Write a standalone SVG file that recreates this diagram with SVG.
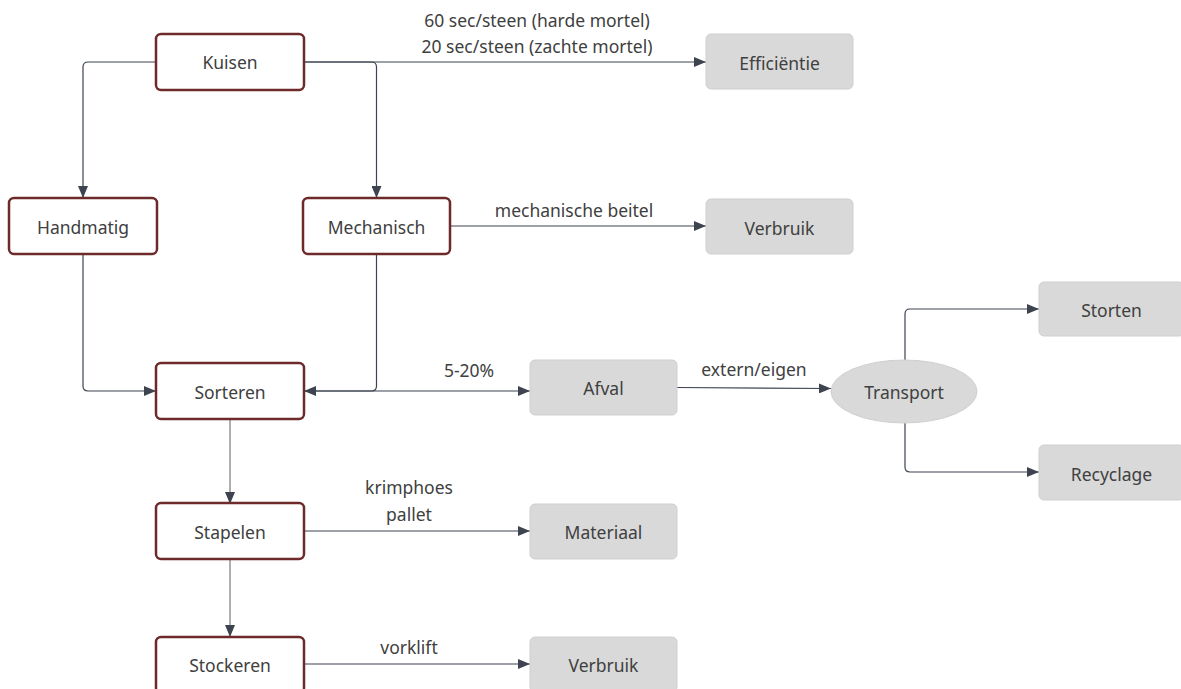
<svg xmlns="http://www.w3.org/2000/svg" width="1181" height="689" viewBox="0 0 1181 689">
<style>
.step{fill:#ffffff;stroke:#6e2a2a;stroke-width:2.5}
.res{fill:#d9d9d9;stroke:#cfcfcf;stroke-width:1}
.t{font-family:"Noto Sans","Open Sans",sans-serif;font-size:17.5px;fill:#404040;text-anchor:middle}
.c{fill:none;stroke:#3d4450;stroke-width:1.2}
.g{stroke:#7a7a7a}
</style>
<defs>
<marker id="ah" viewBox="0 0 12 10" refX="12" refY="5" markerWidth="12" markerHeight="10" markerUnits="userSpaceOnUse" orient="auto">
<path d="M0,0 L12,5 L0,10 Z" fill="#3d4450"/>
</marker>
</defs>
<rect width="1181" height="689" fill="#ffffff"/>
<g id="connectors">
<path class="c" d="M156,62 H88 Q83,62 83,67 V198" marker-end="url(#ah)"/>
<path class="c" d="M304,62 H371.5 Q376.5,62 376.5,67 V198" marker-end="url(#ah)"/>
<path class="c" d="M304,62 H706" marker-end="url(#ah)"/>
<path class="c" d="M83,254 V386 Q83,391 88,391 H156" marker-end="url(#ah)"/>
<path class="c" d="M376.5,254 V386 Q376.5,391 371.5,391 H304" marker-end="url(#ah)"/>
<path class="c" d="M304,391 H530" marker-end="url(#ah)"/>
<path class="c" d="M450,226 H706" marker-end="url(#ah)"/>
<path class="c" d="M677,387.5 L831,388.5" marker-end="url(#ah)"/>
<path class="c" d="M905,360 V314 Q905,309 910,309 H1039" marker-end="url(#ah)"/>
<path class="c" d="M905,423 V467 Q905,472 910,472 H1039" marker-end="url(#ah)"/>
<path class="c g" d="M230,419 V504" marker-end="url(#ah)"/>
<path class="c" d="M304,531 H530" marker-end="url(#ah)"/>
<path class="c g" d="M230,559 V637" marker-end="url(#ah)"/>
<path class="c" d="M304,664 H530" marker-end="url(#ah)"/>
<text class="t" x="537" y="27">60 sec/steen (harde mortel)</text>
<text class="t" x="537" y="53">20 sec/steen (zachte mortel)</text>
<text class="t" x="574" y="217">mechanische beitel</text>
<text class="t" x="469" y="377">5-20%</text>
<text class="t" x="754" y="376">extern/eigen</text>
<text class="t" x="409" y="494">krimphoes</text>
<text class="t" x="409" y="521">pallet</text>
<text class="t" x="409" y="654">vorklift</text>
</g>
<g id="kuisen"><rect class="step" x="156" y="34" width="148" height="56" rx="5"/><text class="t" x="230" y="69">Kuisen</text></g>
<g id="handmatig"><rect class="step" x="9" y="198" width="148" height="56" rx="5"/><text class="t" x="83" y="234">Handmatig</text></g>
<g id="mechanisch"><rect class="step" x="303" y="198" width="147" height="56" rx="5"/><text class="t" x="376.5" y="234">Mechanisch</text></g>
<g id="efficientie"><rect class="res" x="706" y="34" width="147" height="55" rx="5"/><text class="t" x="779.5" y="70">Efficiëntie</text></g>
<g id="verbruik1"><rect class="res" x="706" y="199" width="147" height="55" rx="5"/><text class="t" x="779.5" y="235">Verbruik</text></g>
<g id="sorteren"><rect class="step" x="156" y="363" width="148" height="56" rx="5"/><text class="t" x="230" y="399">Sorteren</text></g>
<g id="afval"><rect class="res" x="530" y="360" width="147" height="55" rx="5"/><text class="t" x="603.5" y="395">Afval</text></g>
<g id="transport"><ellipse cx="904" cy="391.5" rx="73" ry="31.5" fill="#d9d9d9" stroke="#cfcfcf" stroke-width="1"/><text class="t" x="904" y="399">Transport</text></g>
<g id="storten"><rect class="res" x="1039" y="282" width="145" height="54" rx="5"/><text class="t" x="1111.5" y="317">Storten</text></g>
<g id="recyclage"><rect class="res" x="1039" y="445" width="145" height="55" rx="5"/><text class="t" x="1111.5" y="481">Recyclage</text></g>
<g id="stapelen"><rect class="step" x="156" y="503" width="148" height="56" rx="5"/><text class="t" x="230" y="539">Stapelen</text></g>
<g id="materiaal"><rect class="res" x="530" y="504" width="147" height="55" rx="5"/><text class="t" x="603.5" y="539">Materiaal</text></g>
<g id="stockeren"><rect class="step" x="156" y="637" width="148" height="56" rx="5"/><text class="t" x="230" y="672">Stockeren</text></g>
<g id="verbruik2"><rect class="res" x="530" y="637" width="147" height="55" rx="5"/><text class="t" x="603.5" y="672">Verbruik</text></g>
</svg>
